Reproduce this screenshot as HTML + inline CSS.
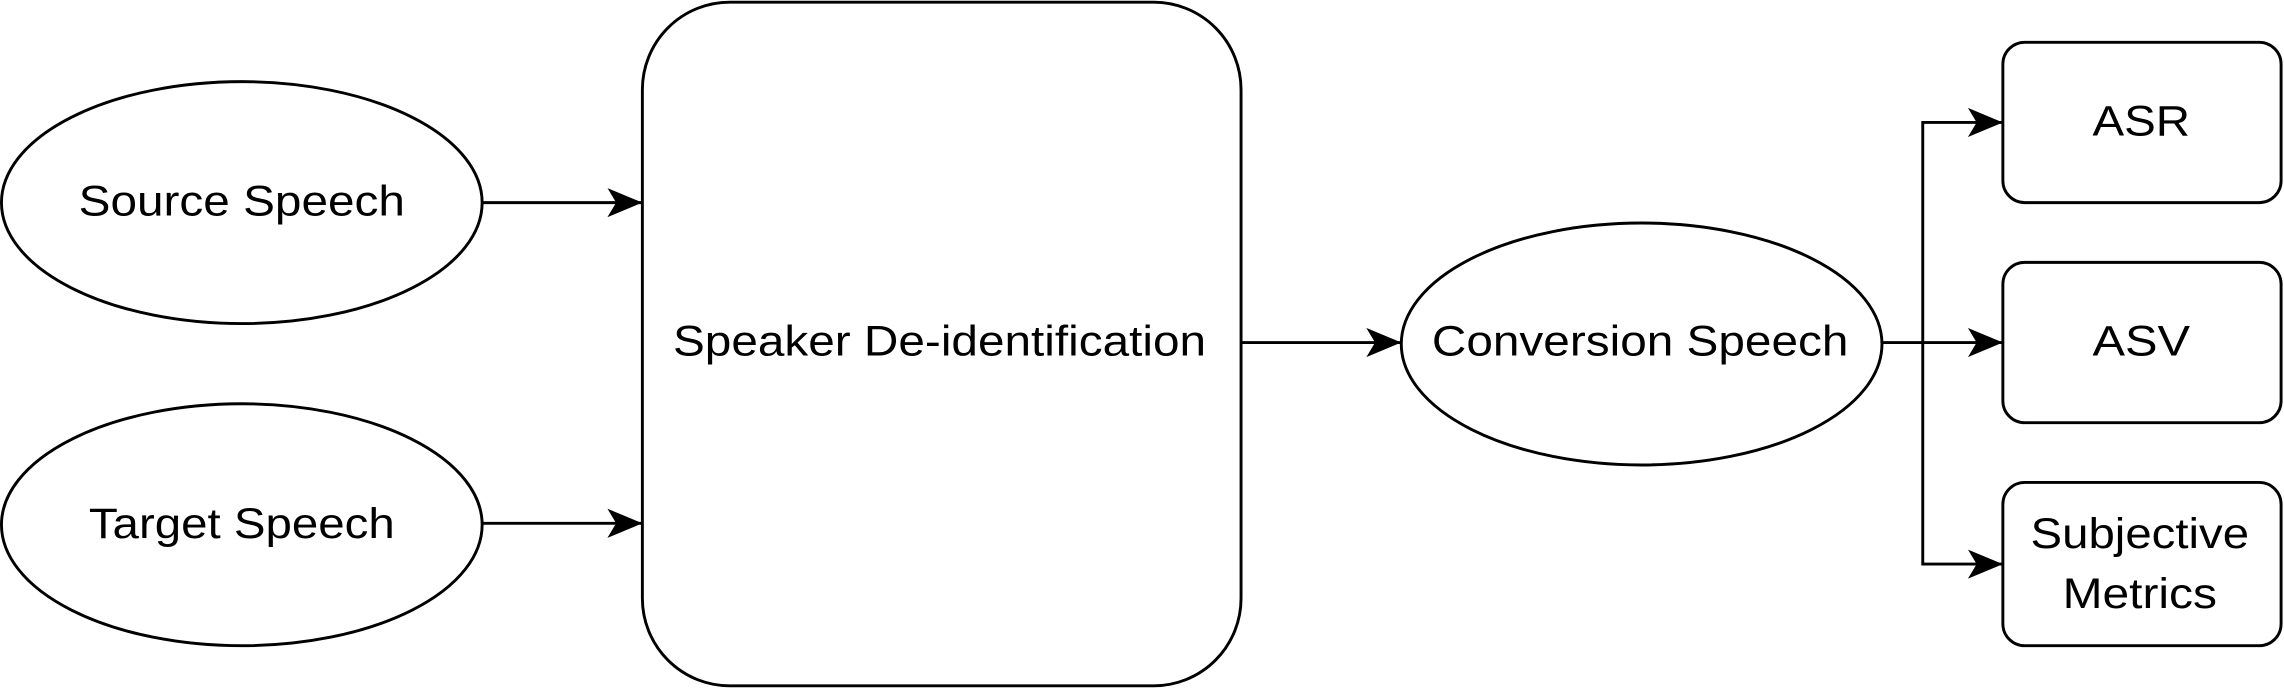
<!DOCTYPE html>
<html><head><style>html,body{margin:0;padding:0;background:#fff}svg{display:block}</style></head><body>
<svg width="2284" height="688" viewBox="0 0 1568 472" preserveAspectRatio="none" xmlns="http://www.w3.org/2000/svg">
<defs>
<marker id="b" viewBox="0 0 24 20" markerWidth="24" markerHeight="20" refX="24" refY="10" orient="auto" markerUnits="userSpaceOnUse"><path d="M0,0 L24,10 L0,20 L6,10 Z" fill="#000"/></marker></defs>
<g fill="none" stroke="#000" stroke-width="2">
<ellipse cx="166" cy="139" rx="165" ry="83" fill="#fff"/>
<ellipse cx="166" cy="360" rx="165" ry="83" fill="#fff"/>
<rect x="441" y="1.5" width="411" height="469" rx="60" fill="#fff"/>
<ellipse cx="1127" cy="236" rx="165" ry="83" fill="#fff"/>
<rect x="1375" y="29" width="191" height="110" rx="15" fill="#fff"/>
<rect x="1375" y="180" width="191" height="110" rx="15" fill="#fff"/>
<rect x="1375" y="331" width="191" height="112" rx="15" fill="#fff"/>
<line x1="331" y1="139" x2="441" y2="139" marker-end="url(#b)"/>
<line x1="331" y1="359" x2="441" y2="359" marker-end="url(#b)"/>
<line x1="852" y1="235" x2="962" y2="235" marker-end="url(#b)"/>
<line x1="1292" y1="235" x2="1375" y2="235" marker-end="url(#b)"/>
<polyline points="1320,235 1320,84 1375,84" marker-end="url(#b)"/>
<polyline points="1320,235 1320,387 1375,387" marker-end="url(#b)"/>
</g>
<g font-family="Liberation Sans, sans-serif" font-size="29" text-anchor="middle" fill="#000" lengthAdjust="spacingAndGlyphs">
<text x="166" y="148" textLength="224" lengthAdjust="spacingAndGlyphs">Source Speech</text>
<text x="166" y="369" textLength="210" lengthAdjust="spacingAndGlyphs">Target Speech</text>
<text x="645" y="244" textLength="366" lengthAdjust="spacingAndGlyphs">Speaker De-identification</text>
<text x="1126" y="244" textLength="286" lengthAdjust="spacingAndGlyphs">Conversion Speech</text>
<text x="1470" y="93" textLength="67" lengthAdjust="spacingAndGlyphs">ASR</text>
<text x="1470" y="244" textLength="67" lengthAdjust="spacingAndGlyphs">ASV</text>
<text x="1469" y="376" textLength="150" lengthAdjust="spacingAndGlyphs">Subjective</text>
<text x="1469" y="417" textLength="106" lengthAdjust="spacingAndGlyphs">Metrics</text>
</g>
</svg>
</body></html>
